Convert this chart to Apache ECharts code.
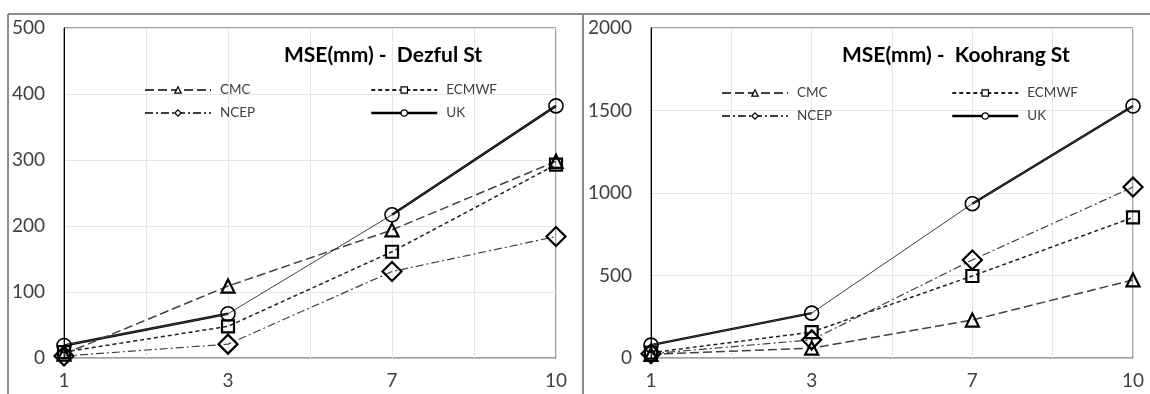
<!DOCTYPE html>
<html>
<head>
<meta charset="utf-8">
<script src="https://cdn.jsdelivr.net/npm/echarts@6/dist/echarts.min.js"></script>
<style>
  html, body { margin: 0; padding: 0; background: #fff; }
  #chart { width: 1150px; height: 394px; }
</style>
</head>
<body>
<div id="chart"></div>
<script>
// Lead time categories (days)
const leadTimes = ['1', '3', '7', '10'];

// Panel titles
const titles = ['MSE(mm) -  Dezful St', 'MSE(mm) -  Koohrang St'];

// Dezful station MSE (mm)
const dezfulCMC   = [6, 109, 194, 298];
const dezfulECMWF = [9, 48, 161, 293];
const dezfulNCEP  = [3, 21, 131, 184];
const dezfulUK    = [19, 67, 217, 382];

// Koohrang station MSE (mm)
const koohrangCMC   = [22, 60, 230, 473];
const koohrangECMWF = [32, 157, 497, 852];
const koohrangNCEP  = [26, 110, 594, 1036];
const koohrangUK    = [78, 272, 935, 1527];

// Y axis ranges
const yMax = [500, 2000];
const yStep = [100, 500];

const FONT = 'Lato, "Open Sans", sans-serif';
const TEXT = '#404040';

const panels = [
  { cmc: dezfulCMC, ecmwf: dezfulECMWF, ncep: dezfulNCEP, uk: dezfulUK },
  { cmc: koohrangCMC, ecmwf: koohrangECMWF, ncep: koohrangNCEP, uk: koohrangUK }
];

const hollow = 'rgba(255,255,255,0)';
const pts = arr => arr.map((v, i) => [i, v]);

const styles = {
  CMC:   { symbol: 'triangle', symbolSize: 13, lineStyle: { type: [9, 4], width: 1.5, color: '#404040' } },
  ECMWF: { symbol: 'rect',     symbolSize: 12, lineStyle: { type: [4, 3], width: 1.5, color: '#202020' } },
  NCEP:  { symbol: 'diamond',  symbolSize: 19, lineStyle: { type: [8, 3, 2, 3], width: 1.2, color: '#404040' } },
  UK:    { symbol: 'circle',   symbolSize: 14, lineStyle: { type: 'solid', width: 1, color: '#404040' } }
};

const series = [];
panels.forEach((p, k) => {
  const base = { type: 'line', xAxisIndex: k, yAxisIndex: k, animation: false, z: 3 };
  [['CMC', p.cmc], ['ECMWF', p.ecmwf], ['NCEP', p.ncep], ['UK', p.uk]].forEach(([name, arr]) => {
    const s = styles[name];
    series.push(Object.assign({}, base, {
      name,
      data: pts(arr),
      symbol: s.symbol,
      symbolSize: s.symbolSize,
      showAllSymbol: true,
      lineStyle: s.lineStyle,
      itemStyle: { color: hollow, borderColor: '#000', borderWidth: name === 'UK' ? 1.6 : 2.2 }
    }));
  });
  // heavy UK segments (days 1-3 and 7-10)
  [[0, 1], [2, 3]].forEach(([a, b]) => {
    series.push(Object.assign({}, base, {
      name: 'UK heavy',
      data: [[a, p.uk[a]], [b, p.uk[b]]],
      symbol: 'none',
      lineStyle: { width: 2.5, color: '#000' },
      z: 2
    }));
  });
});

const grids = [
  { left: 64, top: 28, width: 492, height: 330 },
  { left: 651, top: 28, width: 482, height: 330 }
];

const xAxes = grids.map((g, k) => ({
  type: 'value', gridIndex: k, min: 0, max: 3, interval: 0.5,
  axisLine: { show: true, lineStyle: { color: '#bfbfbf', width: 1 } },
  axisTick: { show: false },
  splitLine: { show: true, lineStyle: { color: '#e6e6e6', width: 1 } },
  axisLabel: {
    margin: 13, fontSize: 19, color: TEXT, fontFamily: FONT,
    formatter: v => Number.isInteger(v) ? leadTimes[v] : ''
  }
}));

const yAxes = grids.map((g, k) => ({
  type: 'value', gridIndex: k, min: 0, max: yMax[k], interval: yStep[k],
  axisLine: { show: true, lineStyle: { color: '#000', width: 1 } },
  axisTick: { show: false },
  splitLine: { show: true, lineStyle: { color: '#e6e6e6', width: 1 } },
  axisLabel: { margin: 19, fontSize: 19, color: TEXT, fontFamily: FONT, formatter: v => String(v) }
}));

const legendText = { fontSize: 13.5, color: TEXT, fontFamily: FONT, padding: [0, 0, 0, 4] };
const legendBase = {
  orient: 'vertical', itemWidth: 66, itemHeight: 8, itemGap: 9,
  textStyle: legendText, selectedMode: false,
  itemStyle: { color: '#fff', borderColor: '#000', borderWidth: 1.2 }
};
const ukLegend = { name: 'UK', lineStyle: { width: 2.5, color: '#000' } };
const legends = [
  Object.assign({}, legendBase, { left: 139, top: 78, data: ['CMC', 'NCEP'] }),
  Object.assign({}, legendBase, { left: 365, top: 78, data: ['ECMWF', ukLegend] }),
  Object.assign({}, legendBase, { left: 716, top: 81, data: ['CMC', 'NCEP'] }),
  Object.assign({}, legendBase, { left: 946, top: 81, data: ['ECMWF', ukLegend] })
];

const chart = echarts.init(document.getElementById('chart'), null, { renderer: 'canvas' });
chart.setOption({
  backgroundColor: '#fff',
  animation: false,
  title: [
    { text: titles[0], left: 279, top: 40, textStyle: { fontSize: 21, fontWeight: 'bold', color: '#000', fontFamily: FONT } },
    { text: titles[1], left: 837, top: 40, textStyle: { fontSize: 21, fontWeight: 'bold', color: '#000', fontFamily: FONT } }
  ],
  grid: grids.map(g => Object.assign({ show: true, borderColor: '#404040', borderWidth: 1, backgroundColor: 'transparent' }, g)),
  xAxis: xAxes,
  yAxis: yAxes,
  legend: legends,
  series,
  graphic: [
    { type: 'line', shape: { x1: 8, y1: 14, x2: 1150, y2: 14 }, style: { stroke: '#8c8c8c', lineWidth: 2 }, silent: true },
    { type: 'line', shape: { x1: 8, y1: 14, x2: 8, y2: 394 }, style: { stroke: '#8c8c8c', lineWidth: 2 }, silent: true },
    { type: 'line', shape: { x1: 583, y1: 14, x2: 583, y2: 394 }, style: { stroke: '#8c8c8c', lineWidth: 2 }, silent: true }
  ]
});
</script>
</body>
</html>
